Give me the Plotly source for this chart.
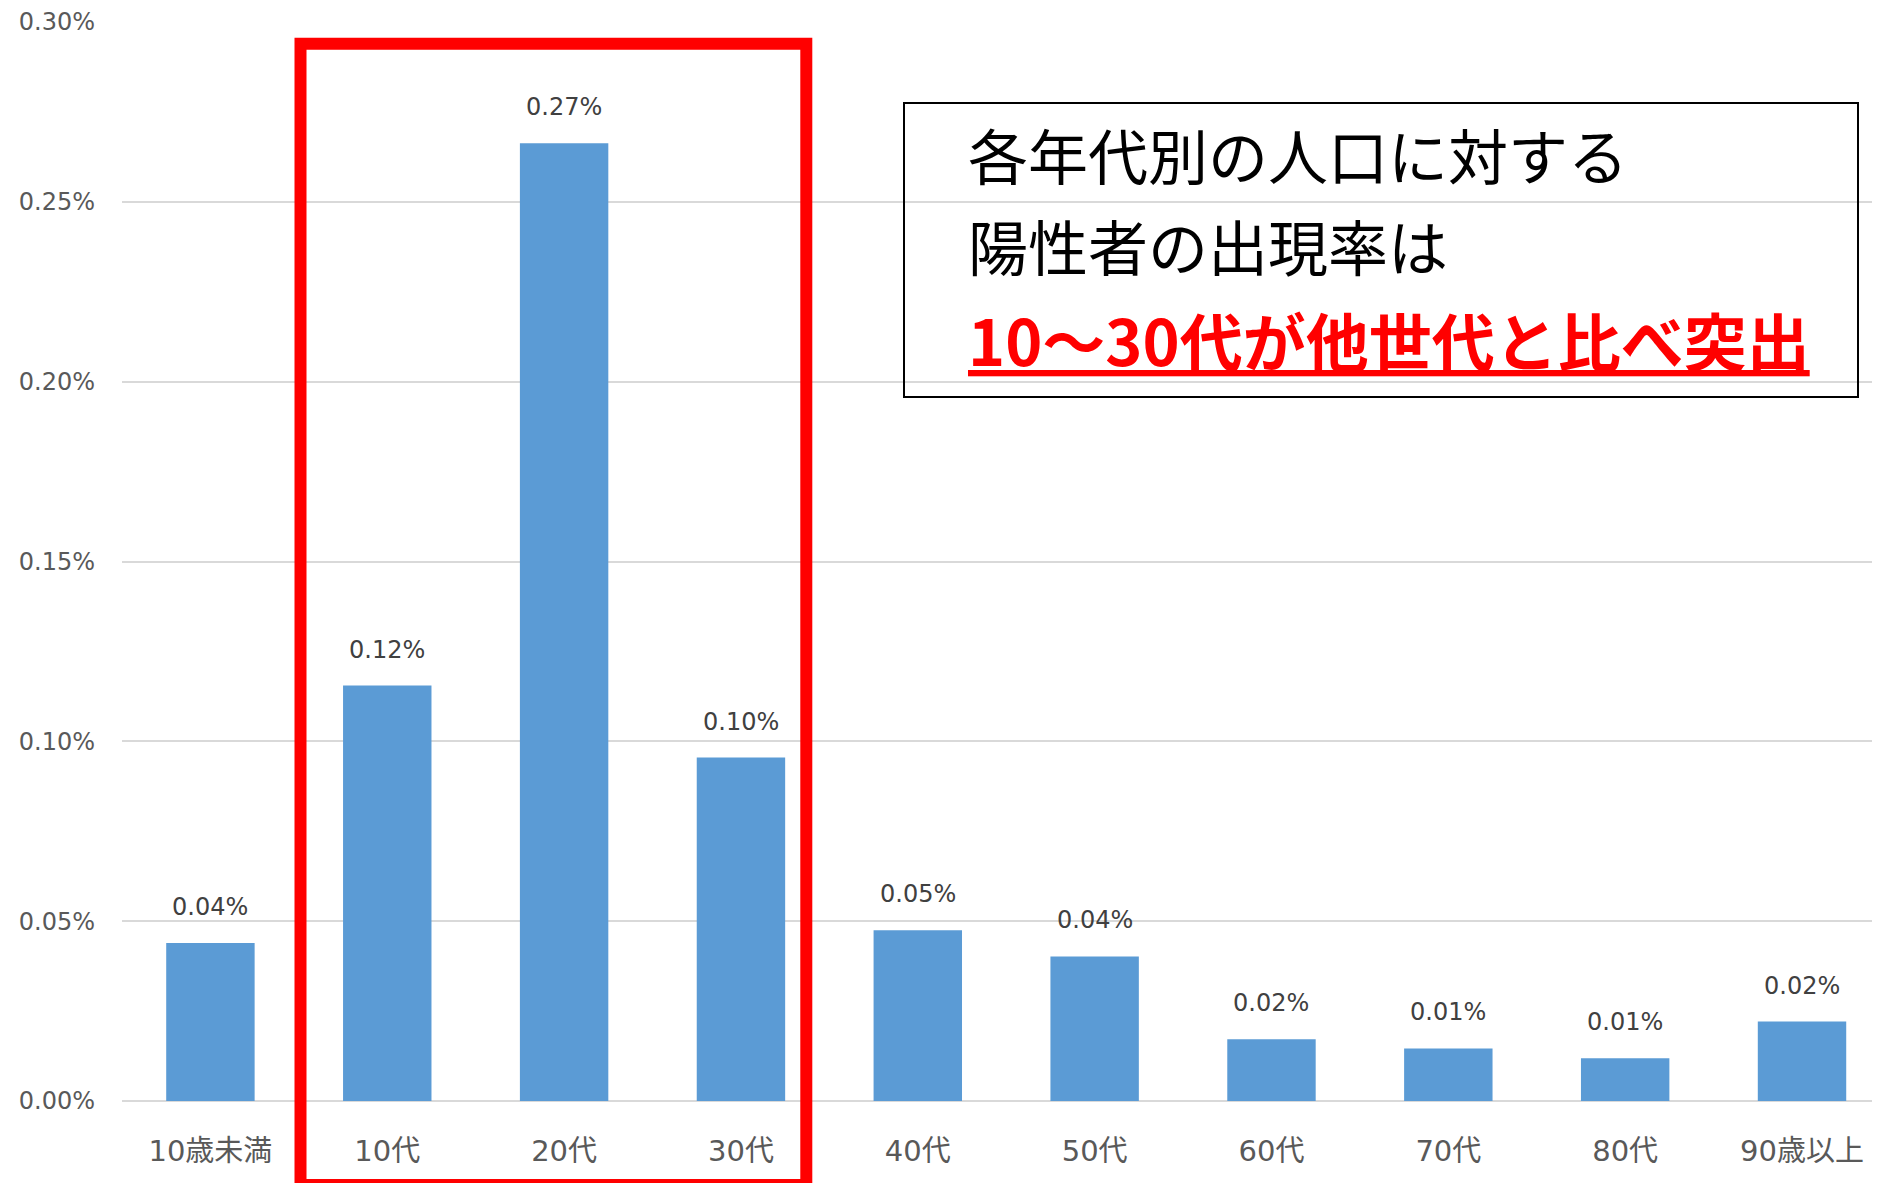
import plotly.graph_objects as go

categories = ["10歳未満", "10代", "20代", "30代", "40代", "50代", "60代", "70代", "80代", "90歳以上"]
rates_pct = [0.0439, 0.1155, 0.2663, 0.0955, 0.0475, 0.0402, 0.0172, 0.0146, 0.0119, 0.0221]
y_ticks = [0.00, 0.05, 0.10, 0.15, 0.20, 0.25, 0.30]
y_tick_labels = ["0.00%", "0.05%", "0.10%", "0.15%", "0.20%", "0.25%", "0.30%"]
box_lines = ["各年代別の人口に対する", "陽性者の出現率は", "10～30代が他世代と比べ突出"]

BAR_COLOR = "#5B9BD5"
GRID = "#D9D9D9"
FONT = "DejaVu Sans, Noto Sans CJK JP, sans-serif"
CJK = "Noto Sans CJK JP, sans-serif"

# page body has an 8px margin; figure is sized to fill the rest of the window
OFF = 8
W, H = 1880 - OFF, 1183 - OFF
ML, MR, MT, MB = 114, 0, 14, 82

fig = go.Figure()
fig.add_trace(go.Bar(
    x=list(range(len(categories))),
    y=rates_pct,
    marker=dict(color=BAR_COLOR, line=dict(width=0)),
    width=0.5,
    hoverinfo="skip",
))

annotations = []
for i, v in enumerate(rates_pct):
    annotations.append(dict(
        x=i, y=v, xref="x", yref="y",
        text=f"{v:.2f}%", showarrow=False,
        xanchor="center", yanchor="bottom", yshift=20,
        font=dict(family=FONT, size=24, color="#404040"),
    ))

plot_w = W - ML - MR
plot_h = H - MT - MB
def px_x(px):
    return (px - OFF - ML) / plot_w
def px_y(py):
    return (H - MB - (py - OFF)) / plot_h

line_centers = [153.5, 244.5, 338]
for k, (txt, cy) in enumerate(zip(box_lines, line_centers)):
    if k < 2:
        t = txt
        f = dict(family=CJK, size=60, color="#000000")
    else:
        t = f"<b><u>{txt}</u></b>"
        f = dict(family=CJK, size=63, color="#FF0000")
    annotations.append(dict(
        x=px_x(966), y=px_y(cy), xref="paper", yref="paper",
        text=t, showarrow=False, xanchor="left", yanchor="middle",
        font=f,
    ))

shapes = [
    dict(type="rect", xref="paper", yref="paper",
         x0=px_x(904), x1=px_x(1858), y0=px_y(397), y1=px_y(103),
         line=dict(color="#000000", width=2), fillcolor="rgba(0,0,0,0)", layer="above"),
    dict(type="rect", xref="paper", yref="paper",
         x0=px_x(300.5), x1=px_x(806.3), y0=px_y(1185), y1=px_y(43.8),
         line=dict(color="#FF0000", width=12), fillcolor="rgba(0,0,0,0)", layer="above"),
]

fig.update_layout(
    width=W, height=H,
    margin=dict(l=ML, r=MR, t=MT, b=MB, pad=0),
    paper_bgcolor="white", plot_bgcolor="white",
    showlegend=False,
    bargap=0.5,
    annotations=annotations,
    shapes=shapes,
    font=dict(family=FONT),
)
fig.update_xaxes(
    tickmode="array", tickvals=list(range(len(categories))), ticktext=categories,
    range=[-0.5, 9.441],
    showgrid=False, zeroline=False, showline=False, ticks="",
    tickfont=dict(family=FONT, size=29, color="#595959"),
    ticklabelstandoff=30,
)
fig.update_yaxes(
    range=[0, 0.30],
    tickmode="array", tickvals=y_ticks, ticktext=y_tick_labels,
    showgrid=True, gridcolor=GRID, gridwidth=2,
    zeroline=True, zerolinecolor=GRID, zerolinewidth=2,
    showline=False, ticks="",
    tickfont=dict(family=FONT, size=24, color="#595959"),
    ticklabelstandoff=26,
)

fig.write_html("out.html")
